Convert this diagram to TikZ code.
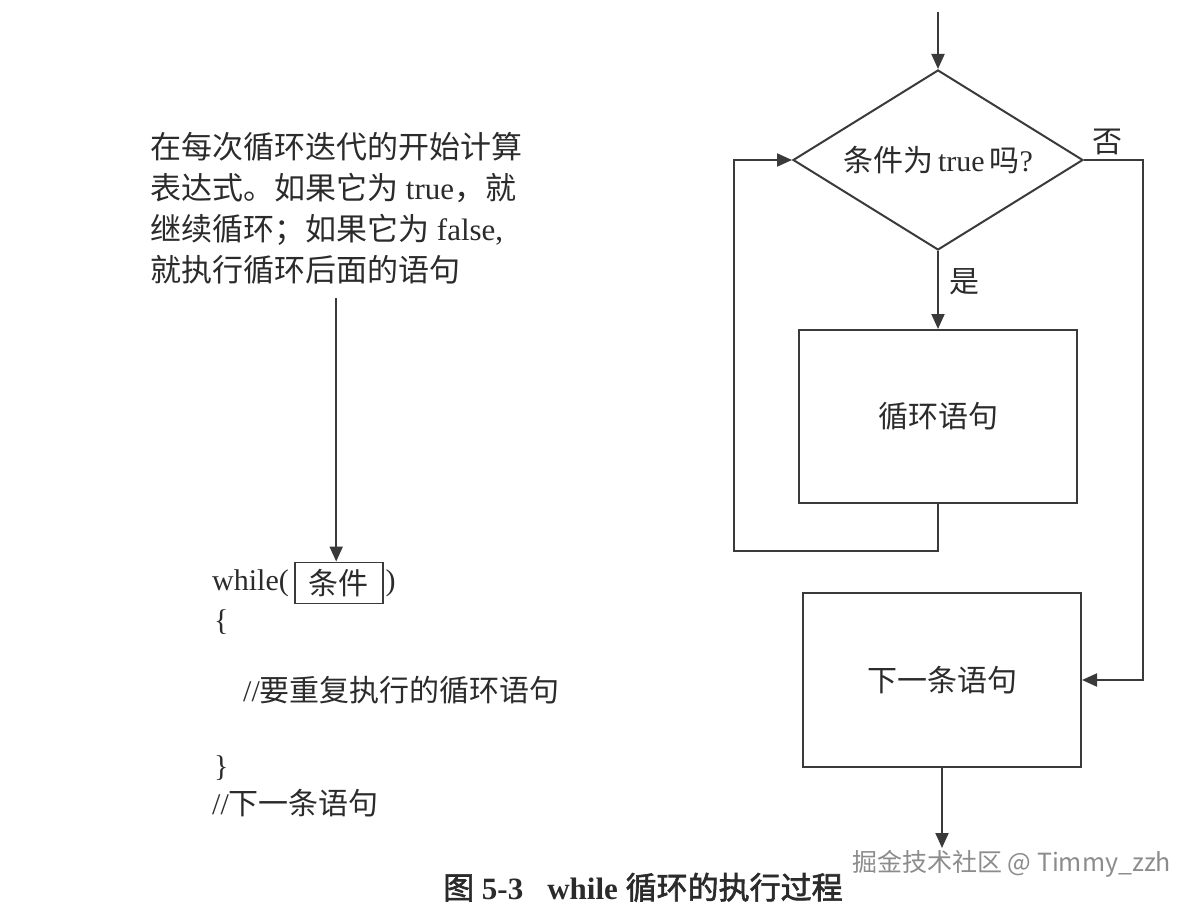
\documentclass[tikz,border=0pt]{standalone}
\usepackage{fontspec}
\setmainfont{Liberation Serif}
\newfontfamily\cjk[AutoFakeBold=2]{Noto Sans CJK SC}
\usetikzlibrary{positioning,shapes.geometric,arrows.meta}
\definecolor{ink}{HTML}{2B2B2B}
\definecolor{edgegray}{HTML}{3A3A3A}
\newcommand{\zh}[1]{{\cjk #1}}
\newcommand{\txtsize}{\fontsize{30}{41}\selectfont}

\begin{document}
\begin{tikzpicture}[
  x=1pt, y=1pt,
  every node/.style={font=\txtsize, text=ink},
  box/.style ={draw=edgegray, line width=2pt, inner sep=0pt,
               minimum width=278pt, minimum height=173pt},
  cond/.style={draw=edgegray, line width=2pt, diamond, inner sep=0pt,
               aspect=1.6, minimum width=290pt, minimum height=180pt},
  arr/.style ={-{Triangle[length=15pt,width=13pt]}, line width=2pt,
               draw=edgegray},
  code/.style={anchor=base west, inner sep=0pt},
  lbl/.style ={inner sep=0pt}
]
\useasboundingbox (0,0) rectangle (1200,-904);

% flow chart
\coordinate (entry) at (938,-12);
\node[cond] (test) at (938,-160) {\zh{条件为}\,true\,\zh{吗}?};
\node[box] (body) at (938,-416.5) {\zh{循环语句}};
\node[box, minimum height=174pt] (next) at (942,-680) {\zh{下一条语句}};
\coordinate (exit) at (942,-848);
\coordinate (backcorner) at (734,-551);
\coordinate (nocorner) at (1143,-160);

\draw[arr] (entry) -- (test.north);
\draw[arr] (test.south) -- node[lbl, right=10pt, pos=0.4] {\zh{是}} (body.north);
\draw[arr] (body.south) |- (backcorner) |- (test.west);
\draw[arr] (test.east) -- node[lbl, above=4pt, pos=0.4] {\zh{否}} (nocorner) |- (next.east);
\draw[arr] (next.south) -- (exit);

% explanation and code
\node[anchor=north west, align=left, inner sep=0pt,
      font=\fontsize{31}{41}\selectfont] (desc) at (150,-132)
     {\zh{在每次循环迭代的开始计算}\\
      \zh{表达式。如果它为} true\zh{，就}\\
      \zh{继续循环；如果它为} false,\\
      \zh{就执行循环后面的语句}};

\node[code] (kw) at (212,-590) {while(};
\node[draw=edgegray, line width=1.5pt, inner sep=0pt,
      minimum width=88pt, minimum height=41pt, right=5pt of kw] (cbox) {\zh{条件}};
\node[code] (kwend) at ([xshift=2pt]cbox.east |- kw.base) {)};
\node[code] (lbrace) at (214,-630) {\{};
\node[code] (stmt) at (243,-701) {//\zh{要重复执行的循环语句}};
\node[code] (rbrace) at (214,-776) {\}};
\node[code] (after) at (212,-814) {//\zh{下一条语句}};

\draw[arr, shorten <=14pt] (desc.south) -- (desc.south |- cbox.north);

% caption
\node[code, font=\fontsize{31}{36}\selectfont\bfseries] (caption) at (443,-899)
     {\zh{图} 5-3\hspace{24pt}while \zh{循环的执行过程}};
\node[code, font=\fontsize{25}{28}\selectfont, text=black!45] (mark) at (852,-871)
     {\zh{掘金技术社区 @ Timmy\_zzh}};
\end{tikzpicture}
\end{document}
